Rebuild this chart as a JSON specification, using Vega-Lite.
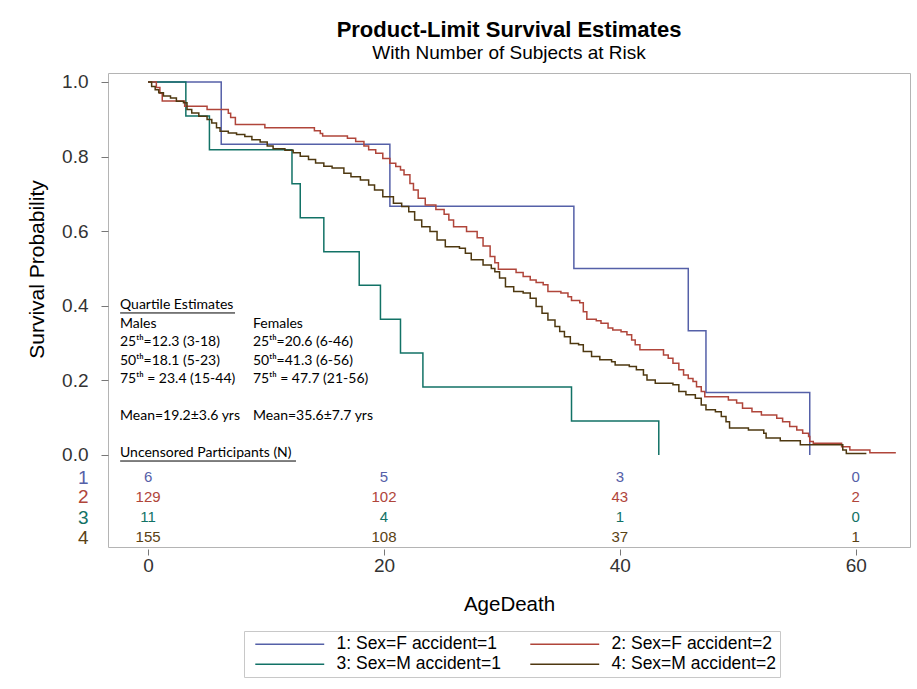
{
  "$schema": "https://vega.github.io/schema/vega-lite/v6.json",
  "width": 802,
  "height": 474,
  "autosize": {"type": "none"},
  "padding": {"left": 108, "top": 73, "right": 7, "bottom": 142},
  "background": "white",
  "title": {
    "text": "Product-Limit Survival Estimates",
    "subtitle": "With Number of Subjects at Risk",
    "anchor": "middle",
    "font": "Liberation Sans",
    "fontSize": 22,
    "fontWeight": "bold",
    "color": "#000000",
    "subtitleFont": "Liberation Sans",
    "subtitleFontSize": 19,
    "subtitleColor": "#000000",
    "subtitlePadding": 2,
    "offset": 9
  },
  "config": {
    "view": {"stroke": "#b4b4b4", "strokeWidth": 1},
    "font": "Liberation Sans"
  },
  "resolve": {"scale": {"x": "independent", "y": "independent"}},
  "datasets": {
    "curves": [
      {"group": "1: Sex=F accident=1", "t": 0, "s": 1.0},
      {"group": "1: Sex=F accident=1", "t": 6.2, "s": 0.833},
      {"group": "1: Sex=F accident=1", "t": 20.5, "s": 0.667},
      {"group": "1: Sex=F accident=1", "t": 36.1, "s": 0.5},
      {"group": "1: Sex=F accident=1", "t": 45.8, "s": 0.333},
      {"group": "1: Sex=F accident=1", "t": 47.3, "s": 0.167},
      {"group": "1: Sex=F accident=1", "t": 56.1, "s": 0.0},
      {"group": "3: Sex=M accident=1", "t": 0, "s": 1.0},
      {"group": "3: Sex=M accident=1", "t": 3.2, "s": 0.909},
      {"group": "3: Sex=M accident=1", "t": 5.2, "s": 0.818},
      {"group": "3: Sex=M accident=1", "t": 12.2, "s": 0.727},
      {"group": "3: Sex=M accident=1", "t": 12.9, "s": 0.636},
      {"group": "3: Sex=M accident=1", "t": 14.9, "s": 0.545},
      {"group": "3: Sex=M accident=1", "t": 17.9, "s": 0.455},
      {"group": "3: Sex=M accident=1", "t": 19.7, "s": 0.364},
      {"group": "3: Sex=M accident=1", "t": 21.4, "s": 0.273},
      {"group": "3: Sex=M accident=1", "t": 23.3, "s": 0.182},
      {"group": "3: Sex=M accident=1", "t": 35.9, "s": 0.091},
      {"group": "3: Sex=M accident=1", "t": 43.3, "s": 0.0},
      {"group": "2: Sex=F accident=2", "t": 0, "s": 1.0},
      {"group": "2: Sex=F accident=2", "t": 0.7, "s": 0.985},
      {"group": "2: Sex=F accident=2", "t": 1.0, "s": 0.97},
      {"group": "2: Sex=F accident=2", "t": 1.2, "s": 0.949},
      {"group": "2: Sex=F accident=2", "t": 3.1, "s": 0.935},
      {"group": "2: Sex=F accident=2", "t": 5.0, "s": 0.926},
      {"group": "2: Sex=F accident=2", "t": 6.8, "s": 0.916},
      {"group": "2: Sex=F accident=2", "t": 7.0, "s": 0.905},
      {"group": "2: Sex=F accident=2", "t": 7.4, "s": 0.886},
      {"group": "2: Sex=F accident=2", "t": 9.9, "s": 0.877},
      {"group": "2: Sex=F accident=2", "t": 14.1, "s": 0.869},
      {"group": "2: Sex=F accident=2", "t": 14.6, "s": 0.862},
      {"group": "2: Sex=F accident=2", "t": 14.8, "s": 0.855},
      {"group": "2: Sex=F accident=2", "t": 16.9, "s": 0.849},
      {"group": "2: Sex=F accident=2", "t": 17.6, "s": 0.84},
      {"group": "2: Sex=F accident=2", "t": 18.3, "s": 0.828},
      {"group": "2: Sex=F accident=2", "t": 18.7, "s": 0.818},
      {"group": "2: Sex=F accident=2", "t": 19.3, "s": 0.809},
      {"group": "2: Sex=F accident=2", "t": 19.9, "s": 0.795},
      {"group": "2: Sex=F accident=2", "t": 20.5, "s": 0.782},
      {"group": "2: Sex=F accident=2", "t": 21.0, "s": 0.773},
      {"group": "2: Sex=F accident=2", "t": 21.4, "s": 0.764},
      {"group": "2: Sex=F accident=2", "t": 21.7, "s": 0.751},
      {"group": "2: Sex=F accident=2", "t": 22.2, "s": 0.728},
      {"group": "2: Sex=F accident=2", "t": 22.5, "s": 0.71},
      {"group": "2: Sex=F accident=2", "t": 22.9, "s": 0.688},
      {"group": "2: Sex=F accident=2", "t": 23.5, "s": 0.67},
      {"group": "2: Sex=F accident=2", "t": 24.4, "s": 0.658},
      {"group": "2: Sex=F accident=2", "t": 25.1, "s": 0.645},
      {"group": "2: Sex=F accident=2", "t": 25.5, "s": 0.63},
      {"group": "2: Sex=F accident=2", "t": 25.9, "s": 0.612},
      {"group": "2: Sex=F accident=2", "t": 27.0, "s": 0.599},
      {"group": "2: Sex=F accident=2", "t": 27.9, "s": 0.582},
      {"group": "2: Sex=F accident=2", "t": 28.4, "s": 0.56},
      {"group": "2: Sex=F accident=2", "t": 29.0, "s": 0.532},
      {"group": "2: Sex=F accident=2", "t": 29.4, "s": 0.515},
      {"group": "2: Sex=F accident=2", "t": 29.7, "s": 0.498},
      {"group": "2: Sex=F accident=2", "t": 31.2, "s": 0.489},
      {"group": "2: Sex=F accident=2", "t": 31.8, "s": 0.478},
      {"group": "2: Sex=F accident=2", "t": 32.4, "s": 0.469},
      {"group": "2: Sex=F accident=2", "t": 32.9, "s": 0.462},
      {"group": "2: Sex=F accident=2", "t": 33.5, "s": 0.456},
      {"group": "2: Sex=F accident=2", "t": 33.9, "s": 0.438},
      {"group": "2: Sex=F accident=2", "t": 35.0, "s": 0.434},
      {"group": "2: Sex=F accident=2", "t": 35.6, "s": 0.424},
      {"group": "2: Sex=F accident=2", "t": 35.9, "s": 0.414},
      {"group": "2: Sex=F accident=2", "t": 36.6, "s": 0.408},
      {"group": "2: Sex=F accident=2", "t": 36.9, "s": 0.384},
      {"group": "2: Sex=F accident=2", "t": 37.2, "s": 0.364},
      {"group": "2: Sex=F accident=2", "t": 38.0, "s": 0.36},
      {"group": "2: Sex=F accident=2", "t": 38.4, "s": 0.353},
      {"group": "2: Sex=F accident=2", "t": 39.0, "s": 0.34},
      {"group": "2: Sex=F accident=2", "t": 39.4, "s": 0.335},
      {"group": "2: Sex=F accident=2", "t": 40.1, "s": 0.33},
      {"group": "2: Sex=F accident=2", "t": 40.6, "s": 0.322},
      {"group": "2: Sex=F accident=2", "t": 41.0, "s": 0.308},
      {"group": "2: Sex=F accident=2", "t": 41.3, "s": 0.295},
      {"group": "2: Sex=F accident=2", "t": 41.7, "s": 0.282},
      {"group": "2: Sex=F accident=2", "t": 43.7, "s": 0.268},
      {"group": "2: Sex=F accident=2", "t": 44.1, "s": 0.259},
      {"group": "2: Sex=F accident=2", "t": 44.5, "s": 0.246},
      {"group": "2: Sex=F accident=2", "t": 45.0, "s": 0.228},
      {"group": "2: Sex=F accident=2", "t": 45.4, "s": 0.214},
      {"group": "2: Sex=F accident=2", "t": 45.8, "s": 0.205},
      {"group": "2: Sex=F accident=2", "t": 46.2, "s": 0.197},
      {"group": "2: Sex=F accident=2", "t": 46.5, "s": 0.183},
      {"group": "2: Sex=F accident=2", "t": 46.9, "s": 0.17},
      {"group": "2: Sex=F accident=2", "t": 47.2, "s": 0.156},
      {"group": "2: Sex=F accident=2", "t": 49.2, "s": 0.147},
      {"group": "2: Sex=F accident=2", "t": 49.9, "s": 0.139},
      {"group": "2: Sex=F accident=2", "t": 50.4, "s": 0.125},
      {"group": "2: Sex=F accident=2", "t": 51.2, "s": 0.116},
      {"group": "2: Sex=F accident=2", "t": 52.0, "s": 0.107},
      {"group": "2: Sex=F accident=2", "t": 53.3, "s": 0.098},
      {"group": "2: Sex=F accident=2", "t": 53.8, "s": 0.089},
      {"group": "2: Sex=F accident=2", "t": 54.4, "s": 0.076},
      {"group": "2: Sex=F accident=2", "t": 55.0, "s": 0.067},
      {"group": "2: Sex=F accident=2", "t": 55.5, "s": 0.058},
      {"group": "2: Sex=F accident=2", "t": 56.0, "s": 0.049},
      {"group": "2: Sex=F accident=2", "t": 56.1, "s": 0.036},
      {"group": "2: Sex=F accident=2", "t": 56.4, "s": 0.031},
      {"group": "2: Sex=F accident=2", "t": 58.8, "s": 0.022},
      {"group": "2: Sex=F accident=2", "t": 59.5, "s": 0.013},
      {"group": "2: Sex=F accident=2", "t": 61.2, "s": 0.006},
      {"group": "2: Sex=F accident=2", "t": 63.4, "s": 0.006},
      {"group": "4: Sex=M accident=2", "t": 0, "s": 1.0},
      {"group": "4: Sex=M accident=2", "t": 0.3, "s": 0.988},
      {"group": "4: Sex=M accident=2", "t": 0.6, "s": 0.979},
      {"group": "4: Sex=M accident=2", "t": 0.9, "s": 0.971},
      {"group": "4: Sex=M accident=2", "t": 1.3, "s": 0.962},
      {"group": "4: Sex=M accident=2", "t": 1.9, "s": 0.957},
      {"group": "4: Sex=M accident=2", "t": 2.4, "s": 0.948},
      {"group": "4: Sex=M accident=2", "t": 3.0, "s": 0.944},
      {"group": "4: Sex=M accident=2", "t": 3.3, "s": 0.926},
      {"group": "4: Sex=M accident=2", "t": 3.7, "s": 0.917},
      {"group": "4: Sex=M accident=2", "t": 4.3, "s": 0.908},
      {"group": "4: Sex=M accident=2", "t": 5.0, "s": 0.899},
      {"group": "4: Sex=M accident=2", "t": 5.4, "s": 0.89},
      {"group": "4: Sex=M accident=2", "t": 5.8, "s": 0.877},
      {"group": "4: Sex=M accident=2", "t": 6.1, "s": 0.868},
      {"group": "4: Sex=M accident=2", "t": 6.8, "s": 0.863},
      {"group": "4: Sex=M accident=2", "t": 7.5, "s": 0.859},
      {"group": "4: Sex=M accident=2", "t": 8.2, "s": 0.854},
      {"group": "4: Sex=M accident=2", "t": 8.8, "s": 0.845},
      {"group": "4: Sex=M accident=2", "t": 9.5, "s": 0.839},
      {"group": "4: Sex=M accident=2", "t": 10.1, "s": 0.828},
      {"group": "4: Sex=M accident=2", "t": 10.6, "s": 0.821},
      {"group": "4: Sex=M accident=2", "t": 11.6, "s": 0.817},
      {"group": "4: Sex=M accident=2", "t": 12.3, "s": 0.81},
      {"group": "4: Sex=M accident=2", "t": 12.9, "s": 0.801},
      {"group": "4: Sex=M accident=2", "t": 13.6, "s": 0.792},
      {"group": "4: Sex=M accident=2", "t": 14.2, "s": 0.783},
      {"group": "4: Sex=M accident=2", "t": 14.9, "s": 0.774},
      {"group": "4: Sex=M accident=2", "t": 15.6, "s": 0.769},
      {"group": "4: Sex=M accident=2", "t": 16.6, "s": 0.755},
      {"group": "4: Sex=M accident=2", "t": 17.2, "s": 0.746},
      {"group": "4: Sex=M accident=2", "t": 18.0, "s": 0.737},
      {"group": "4: Sex=M accident=2", "t": 18.7, "s": 0.724},
      {"group": "4: Sex=M accident=2", "t": 19.2, "s": 0.71},
      {"group": "4: Sex=M accident=2", "t": 19.9, "s": 0.692},
      {"group": "4: Sex=M accident=2", "t": 20.8, "s": 0.675},
      {"group": "4: Sex=M accident=2", "t": 21.5, "s": 0.666},
      {"group": "4: Sex=M accident=2", "t": 22.1, "s": 0.652},
      {"group": "4: Sex=M accident=2", "t": 22.6, "s": 0.63},
      {"group": "4: Sex=M accident=2", "t": 23.2, "s": 0.612},
      {"group": "4: Sex=M accident=2", "t": 23.9, "s": 0.599},
      {"group": "4: Sex=M accident=2", "t": 24.5, "s": 0.576},
      {"group": "4: Sex=M accident=2", "t": 25.2, "s": 0.558},
      {"group": "4: Sex=M accident=2", "t": 26.4, "s": 0.554},
      {"group": "4: Sex=M accident=2", "t": 26.9, "s": 0.541},
      {"group": "4: Sex=M accident=2", "t": 27.4, "s": 0.523},
      {"group": "4: Sex=M accident=2", "t": 28.4, "s": 0.509},
      {"group": "4: Sex=M accident=2", "t": 29.1, "s": 0.5},
      {"group": "4: Sex=M accident=2", "t": 29.4, "s": 0.491},
      {"group": "4: Sex=M accident=2", "t": 29.8, "s": 0.474},
      {"group": "4: Sex=M accident=2", "t": 30.3, "s": 0.451},
      {"group": "4: Sex=M accident=2", "t": 31.0, "s": 0.438},
      {"group": "4: Sex=M accident=2", "t": 31.8, "s": 0.434},
      {"group": "4: Sex=M accident=2", "t": 32.4, "s": 0.42},
      {"group": "4: Sex=M accident=2", "t": 32.9, "s": 0.398},
      {"group": "4: Sex=M accident=2", "t": 33.4, "s": 0.38},
      {"group": "4: Sex=M accident=2", "t": 33.9, "s": 0.362},
      {"group": "4: Sex=M accident=2", "t": 34.5, "s": 0.344},
      {"group": "4: Sex=M accident=2", "t": 34.9, "s": 0.331},
      {"group": "4: Sex=M accident=2", "t": 35.3, "s": 0.317},
      {"group": "4: Sex=M accident=2", "t": 35.8, "s": 0.299},
      {"group": "4: Sex=M accident=2", "t": 36.5, "s": 0.295},
      {"group": "4: Sex=M accident=2", "t": 36.9, "s": 0.277},
      {"group": "4: Sex=M accident=2", "t": 37.6, "s": 0.264},
      {"group": "4: Sex=M accident=2", "t": 38.3, "s": 0.255},
      {"group": "4: Sex=M accident=2", "t": 39.3, "s": 0.25},
      {"group": "4: Sex=M accident=2", "t": 39.6, "s": 0.241},
      {"group": "4: Sex=M accident=2", "t": 40.8, "s": 0.237},
      {"group": "4: Sex=M accident=2", "t": 41.4, "s": 0.228},
      {"group": "4: Sex=M accident=2", "t": 42.0, "s": 0.214},
      {"group": "4: Sex=M accident=2", "t": 42.3, "s": 0.201},
      {"group": "4: Sex=M accident=2", "t": 43.0, "s": 0.192},
      {"group": "4: Sex=M accident=2", "t": 44.5, "s": 0.188},
      {"group": "4: Sex=M accident=2", "t": 45.0, "s": 0.17},
      {"group": "4: Sex=M accident=2", "t": 45.6, "s": 0.161},
      {"group": "4: Sex=M accident=2", "t": 46.4, "s": 0.152},
      {"group": "4: Sex=M accident=2", "t": 46.9, "s": 0.134},
      {"group": "4: Sex=M accident=2", "t": 47.3, "s": 0.121},
      {"group": "4: Sex=M accident=2", "t": 48.1, "s": 0.116},
      {"group": "4: Sex=M accident=2", "t": 48.6, "s": 0.103},
      {"group": "4: Sex=M accident=2", "t": 49.0, "s": 0.089},
      {"group": "4: Sex=M accident=2", "t": 49.3, "s": 0.072},
      {"group": "4: Sex=M accident=2", "t": 50.9, "s": 0.067},
      {"group": "4: Sex=M accident=2", "t": 52.2, "s": 0.058},
      {"group": "4: Sex=M accident=2", "t": 52.4, "s": 0.045},
      {"group": "4: Sex=M accident=2", "t": 53.6, "s": 0.038},
      {"group": "4: Sex=M accident=2", "t": 55.3, "s": 0.027},
      {"group": "4: Sex=M accident=2", "t": 58.9, "s": 0.013},
      {"group": "4: Sex=M accident=2", "t": 59.2, "s": 0.004},
      {"group": "4: Sex=M accident=2", "t": 60.9, "s": 0.004}
    ],
    "atrisk": [
      {"stratum": 1, "group": "1: Sex=F accident=1", "t": 0, "n": 6},
      {"stratum": 1, "group": "1: Sex=F accident=1", "t": 20, "n": 5},
      {"stratum": 1, "group": "1: Sex=F accident=1", "t": 40, "n": 3},
      {"stratum": 1, "group": "1: Sex=F accident=1", "t": 60, "n": 0},
      {"stratum": 2, "group": "2: Sex=F accident=2", "t": 0, "n": 129},
      {"stratum": 2, "group": "2: Sex=F accident=2", "t": 20, "n": 102},
      {"stratum": 2, "group": "2: Sex=F accident=2", "t": 40, "n": 43},
      {"stratum": 2, "group": "2: Sex=F accident=2", "t": 60, "n": 2},
      {"stratum": 3, "group": "3: Sex=M accident=1", "t": 0, "n": 11},
      {"stratum": 3, "group": "3: Sex=M accident=1", "t": 20, "n": 4},
      {"stratum": 3, "group": "3: Sex=M accident=1", "t": 40, "n": 1},
      {"stratum": 3, "group": "3: Sex=M accident=1", "t": 60, "n": 0},
      {"stratum": 4, "group": "4: Sex=M accident=2", "t": 0, "n": 155},
      {"stratum": 4, "group": "4: Sex=M accident=2", "t": 20, "n": 108},
      {"stratum": 4, "group": "4: Sex=M accident=2", "t": 40, "n": 37},
      {"stratum": 4, "group": "4: Sex=M accident=2", "t": 60, "n": 1}
    ],
    "notes": [
      {"col": "Males", "line": 1, "text": "Quartile Estimates"},
      {"col": "Males", "line": 2, "text": "Males"},
      {"col": "Females", "line": 2, "text": "Females"},
      {"col": "Males", "line": 3, "text": "25ᵗʰ=12.3 (3-18)"},
      {"col": "Females", "line": 3, "text": "25ᵗʰ=20.6 (6-46)"},
      {"col": "Males", "line": 4, "text": "50ᵗʰ=18.1 (5-23)"},
      {"col": "Females", "line": 4, "text": "50ᵗʰ=41.3 (6-56)"},
      {"col": "Males", "line": 5, "text": "75ᵗʰ = 23.4 (15-44)"},
      {"col": "Females", "line": 5, "text": "75ᵗʰ = 47.7 (21-56)"},
      {"col": "Males", "line": 7, "text": "Mean=19.2±3.6 yrs"},
      {"col": "Females", "line": 7, "text": "Mean=35.6±7.7 yrs"},
      {"col": "Males", "line": 9, "text": "Uncensored Participants (N)"}
    ]
  },
  "layer": [
    {
      "data": {"name": "curves"},
      "mark": {"type": "line", "interpolate": "step-after", "strokeWidth": 1.5, "clip": true},
      "encoding": {
        "x": {
          "field": "t", "type": "quantitative",
          "scale": {"domain": [-3.4, 64.6], "nice": false, "zero": false},
          "axis": {
            "title": "AgeDeath", "values": [0, 20, 40, 60], "grid": false, "domain": false,
            "tickColor": "#777777", "tickSize": 6, "offset": 2,
            "labelFontSize": 19, "labelColor": "#333333", "labelPadding": 1, "labelFont": "Liberation Sans",
            "titleFontSize": 20.5, "titleFontWeight": "normal", "titleColor": "#000000", "titlePadding": 19, "titleFont": "Liberation Sans"
          }
        },
        "y": {
          "field": "s", "type": "quantitative",
          "scale": {"domain": [-0.247, 1.024], "nice": false, "zero": false},
          "axis": {
            "title": "Survival Probability",
            "values": [0, 0.2, 0.4, 0.6, 0.8, 1, -0.0593, -0.1129, -0.1666, -0.2202],
            "labelExpr": "datum.value > -0.01 ? format(datum.value, '.1f') : datum.value > -0.08 ? '1' : datum.value > -0.14 ? '2' : datum.value > -0.19 ? '3' : '4'",
            "grid": false, "domain": false,
            "tickSize": 7, "tickColor": "#777777",
            "tickOpacity": {"condition": {"test": "datum.value < -0.01", "value": 0}, "value": 1},
            "labelColor": {"condition": [
              {"test": "datum.value > -0.01", "value": "#333333"},
              {"test": "datum.value > -0.08", "value": "#5560A8"},
              {"test": "datum.value > -0.14", "value": "#B0453A"},
              {"test": "datum.value > -0.19", "value": "#127266"}
            ], "value": "#5A4215"},
            "labelFontSize": 19, "labelPadding": 13, "labelOverlap": false, "labelBound": false, "labelFlush": false,
            "labelFont": "Liberation Sans",
            "titleFontSize": 21, "titleFontWeight": "normal", "titleColor": "#000000", "titleFont": "Liberation Sans",
            "titleY": 196, "titlePadding": 14
          }
        },
        "color": {
          "field": "group", "type": "nominal",
          "scale": {
            "domain": ["1: Sex=F accident=1", "2: Sex=F accident=2", "3: Sex=M accident=1", "4: Sex=M accident=2"],
            "range": ["#5560A8", "#B0453A", "#127266", "#4E3810"]
          },
          "legend": {
            "title": null, "orient": "none", "legendX": 136, "legendY": 558,
            "direction": "horizontal", "columns": 2,
            "symbolType": "M-6,0H6", "symbolSize": 132, "symbolStrokeWidth": 1.5, "symbolOffset": 33,
            "labelFontSize": 17.5, "labelFont": "Liberation Sans", "labelColor": "#000000", "labelLimit": 400,
            "labelOffset": 38, "columnPadding": 22, "rowPadding": 1.5,
            "strokeColor": "#c8c8c8", "padding": 4
          }
        }
      }
    },
    {
      "data": {"name": "atrisk"},
      "mark": {"type": "text", "fontSize": 15, "baseline": "middle", "align": "center", "font": "Liberation Sans"},
      "encoding": {
        "x": {"field": "t", "type": "quantitative", "scale": {"domain": [-3.4, 64.6], "nice": false, "zero": false}, "axis": null},
        "y": {"field": "stratum", "type": "ordinal", "scale": {"type": "point", "domain": [1, 2, 3, 4], "range": [404, 464], "padding": 0}, "axis": null},
        "text": {"field": "n", "type": "quantitative"},
        "fill": {
          "field": "group", "type": "nominal",
          "scale": {
            "domain": ["1: Sex=F accident=1", "2: Sex=F accident=2", "3: Sex=M accident=1", "4: Sex=M accident=2"],
            "range": ["#5560A8", "#B0453A", "#127266", "#5A4215"]
          },
          "legend": null
        }
      }
    },
    {
      "data": {"name": "notes"},
      "mark": {"type": "text", "font": "Lato", "fontSize": 14, "align": "left", "baseline": "middle", "color": "#000000"},
      "encoding": {
        "x": {"field": "col", "type": "nominal", "scale": {"type": "point", "domain": ["Males", "Females"], "range": [12, 145], "padding": 0}, "axis": null},
        "y": {"field": "line", "type": "ordinal", "scale": {"type": "point", "domain": [1, 2, 3, 4, 5, 6, 7, 8, 9], "range": [232, 380], "padding": 0}, "axis": null},
        "text": {"field": "text", "type": "nominal"}
      }
    },
    {
      "data": {"values": [{}]},
      "mark": {"type": "rule", "color": "#000000", "strokeWidth": 1, "yOffset": 8},
      "encoding": {
        "x": {"datum": -2.37, "type": "quantitative", "scale": {"domain": [-3.4, 64.6], "nice": false, "zero": false}, "axis": null},
        "x2": {"datum": 7.37},
        "y": {"datum": 0.402, "type": "quantitative", "scale": {"domain": [-0.247, 1.024], "nice": false, "zero": false}, "axis": null}
      }
    },
    {
      "data": {"values": [{}]},
      "mark": {"type": "rule", "color": "#000000", "strokeWidth": 1, "yOffset": 8},
      "encoding": {
        "x": {"datum": -2.37, "type": "quantitative", "scale": {"domain": [-3.4, 64.6], "nice": false, "zero": false}, "axis": null},
        "x2": {"datum": 12.54},
        "y": {"datum": 0.005, "type": "quantitative", "scale": {"domain": [-0.247, 1.024], "nice": false, "zero": false}, "axis": null}
      }
    }
  ]
}
